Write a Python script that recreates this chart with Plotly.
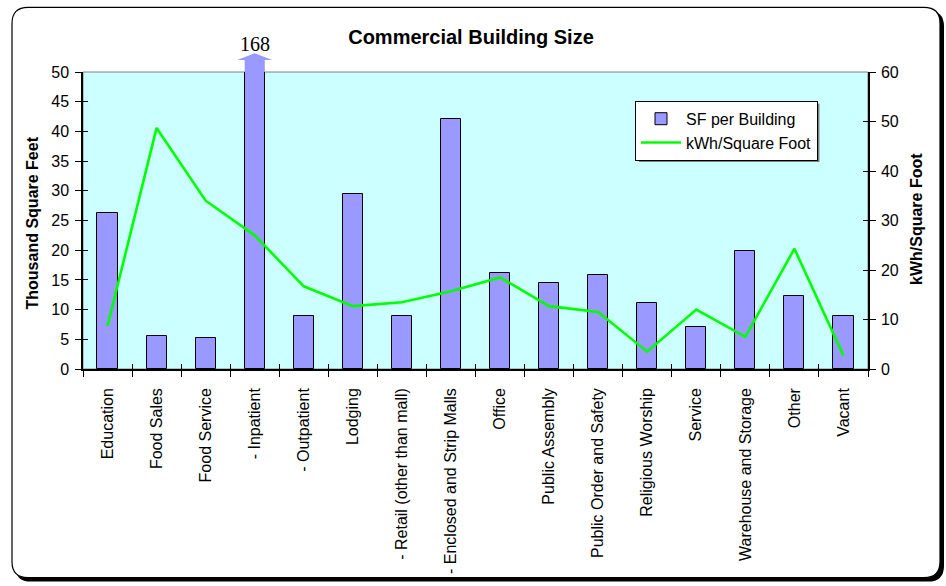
import plotly.graph_objects as go

# Building categories and their values
categories = [
    "Education", "Food Sales", "Food Service", "- Inpatient", "- Outpatient",
    "Lodging", "- Retail (other than mall)", "- Enclosed and Strip Malls",
    "Office", "Public Assembly", "Public Order and Safety", "Religious Worship",
    "Service", "Warehouse and Storage", "Other", "Vacant",
]
sf_per_building = [26.2, 5.6, 5.2, 168, 8.9, 29.4, 8.9, 42.1,
                   16.2, 14.4, 15.8, 11.1, 7.0, 19.8, 12.3, 9.0]
kwh_per_sqft = [8.7, 48.7, 34.0, 27.0, 16.7, 12.7, 13.5, 15.7,
                18.5, 12.7, 11.5, 3.5, 12.0, 6.5, 24.3, 2.7]

left_ticks = list(range(0, 51, 5))
right_ticks = list(range(0, 61, 10))

W, H = 946, 586
ML, MR, MT, MB = 83, 78, 72, 215
PW, PH = W - ML - MR, H - MT - MB
FONT = "Arial, Liberation Sans, sans-serif"
BAR_WIDTH = 0.41
N = len(categories)
Y_MAX_LEFT = 50


def px_x(px):
    return (px - ML) / PW


def px_y(py):
    return (H - MB - py) / PH


def rounded_rect(x0, y0, x1, y1, r):
    X, Y = px_x, px_y
    return (
        f"M {X(x0 + r)},{Y(y0)} L {X(x1 - r)},{Y(y0)} "
        f"Q {X(x1)},{Y(y0)} {X(x1)},{Y(y0 + r)} "
        f"L {X(x1)},{Y(y1 - r)} Q {X(x1)},{Y(y1)} {X(x1 - r)},{Y(y1)} "
        f"L {X(x0 + r)},{Y(y1)} Q {X(x0)},{Y(y1)} {X(x0)},{Y(y1 - r)} "
        f"L {X(x0)},{Y(y0 + r)} Q {X(x0)},{Y(y0)} {X(x0 + r)},{Y(y0)} Z"
    )


fig = go.Figure()

fig.add_trace(go.Bar(
    x=categories, y=sf_per_building, name="SF per Building",
    marker=dict(color="#9999FF", line=dict(color="black", width=1)),
    width=BAR_WIDTH, yaxis="y",
))
fig.add_trace(go.Scatter(
    x=categories, y=kwh_per_sqft, name="kWh/Square Foot", mode="lines",
    line=dict(color="#00FF00", width=2.6), yaxis="y2",
))
# empty helper traces so the inner tick axes get drawn
fig.add_trace(go.Scatter(x=[], y=[], xaxis="x2", yaxis="y3",
                         showlegend=False, hoverinfo="skip"))
fig.add_trace(go.Scatter(x=[], y=[], xaxis="x", yaxis="y4",
                         showlegend=False, hoverinfo="skip"))

shapes = [
    # chart frame with drop shadow
    dict(type="path", xref="paper", yref="paper", layer="below",
         path=rounded_rect(15, 10, 944, 585, 16),
         fillcolor="black", line=dict(width=0)),
    dict(type="path", xref="paper", yref="paper", layer="below",
         path=rounded_rect(12, 7, 940, 581, 16),
         fillcolor="white", line=dict(color="black", width=1.2)),
    # plot area background
    dict(type="rect", xref="paper", yref="paper", layer="below",
         x0=0, x1=1, y0=0, y1=1, fillcolor="#CCFFFF",
         line=dict(color="#808080", width=1)),
    # legend drop shadow
    dict(type="rect", xref="paper", yref="paper", layer="below",
         x0=px_x(639), x1=px_x(819.5), y0=px_y(162.5), y1=px_y(104),
         fillcolor="#808080", line=dict(width=0)),
]

# arrow showing bars that run past the top of the axis
annotations = []
for i, v in enumerate(sf_per_building):
    if v > Y_MAX_LEFT:
        xc = (i + 0.5) / N
        hw = BAR_WIDTH / 2 / N
        head = 0.357 / N
        base = 1 + 12 / PH
        tip = 1 + 19 / PH
        shapes.append(dict(
            type="path", xref="paper", yref="paper", layer="above",
            path=(f"M {xc - hw},1 L {xc - hw},{base} L {xc - head},{base} "
                  f"L {xc},{tip} L {xc + head},{base} L {xc + hw},{base} "
                  f"L {xc + hw},1 Z"),
            fillcolor="#9999FF", line=dict(width=0)))
        annotations.append(dict(
            x=xc, y=px_y(44), xref="paper", yref="paper", text=f"{v:g}",
            showarrow=False, xanchor="center", yanchor="middle",
            font=dict(family="Liberation Serif, Times New Roman, serif",
                      size=20, color="black")))

annotations += [
    dict(x=px_x(32), y=0.49, xref="paper", yref="paper",
         text="<b>Thousand Square Feet</b>", textangle=-90, showarrow=False,
         xanchor="center", yanchor="middle",
         font=dict(family=FONT, size=16, color="black")),
    dict(x=px_x(916), y=0.505, xref="paper", yref="paper",
         text="<b>kWh/Square Foot</b>", textangle=-90, showarrow=False,
         xanchor="center", yanchor="middle",
         font=dict(family=FONT, size=16, color="black")),
]

axis_common = dict(showgrid=False, zeroline=False, linecolor="black",
                   tickcolor="black", tickfont=dict(family=FONT, size=16, color="black"))

fig.update_layout(
    width=W, height=H,
    margin=dict(l=ML, r=MR, t=MT, b=MB),
    paper_bgcolor="white", plot_bgcolor="rgba(0,0,0,0)",
    title=dict(text="<b>Commercial Building Size</b>", x=px_x(471), xref="paper",
               xanchor="center", y=1 - 37 / H, yanchor="middle",
               font=dict(family=FONT, size=20, color="black")),
    font=dict(family=FONT, size=16, color="black"),
    showlegend=True,
    legend=dict(x=px_x(635), y=px_y(101), xanchor="left", yanchor="top",
                bgcolor="white", bordercolor="black", borderwidth=1,
                font=dict(family=FONT, size=16, color="black"),
                itemwidth=40, tracegroupgap=0),
    xaxis=dict(type="category", categoryorder="array", categoryarray=categories,
               range=[-0.5, N - 0.5], tickson="boundaries", ticks="outside",
               ticklen=6, tickangle=-90, showline=True, linewidth=1.5,
               ticklabelstandoff=11, **axis_common),
    xaxis2=dict(overlaying="x", anchor="y", range=[-0.5, N - 0.5],
                tickvals=[k - 0.5 for k in range(N + 1)], ticks="inside",
                ticklen=5, showticklabels=False, showline=False,
                showgrid=False, zeroline=False, tickcolor="black"),
    yaxis=dict(range=[0, Y_MAX_LEFT], tickvals=left_ticks, ticks="outside",
               ticklen=6, showline=True, linewidth=1.5, ticklabelstandoff=3,
               **axis_common),
    yaxis2=dict(overlaying="y", side="right", range=[0, 60],
                tickvals=right_ticks, ticks="outside", ticklen=6,
                showline=True, linewidth=1.5, ticklabelstandoff=2,
                **axis_common),
    yaxis3=dict(overlaying="y", anchor="x", range=[0, Y_MAX_LEFT],
                tickvals=left_ticks, ticks="inside", ticklen=5,
                showticklabels=False, showline=False, showgrid=False,
                zeroline=False, tickcolor="black"),
    yaxis4=dict(overlaying="y", side="right", range=[0, 60],
                tickvals=right_ticks, ticks="inside", ticklen=5,
                showticklabels=False, showline=False, showgrid=False,
                zeroline=False, tickcolor="black"),
    shapes=shapes,
    annotations=annotations,
    bargap=0,
)

fig.write_html("out.html")
